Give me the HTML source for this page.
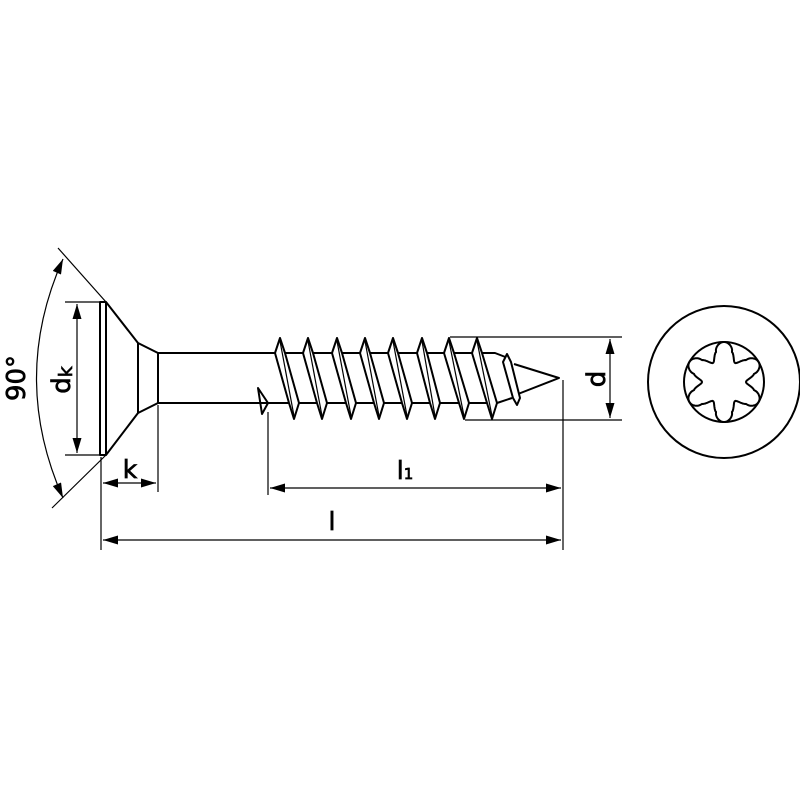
<!DOCTYPE html>
<html><head><meta charset="utf-8"><style>body{margin:0;background:#fff}svg{display:block}text{font-family:"DejaVu Sans","Liberation Sans",sans-serif;fill:#000;stroke:#000;stroke-width:0.7}</style></head>
<body>
<svg width="800" height="800" viewBox="0 0 800 800" xmlns="http://www.w3.org/2000/svg">
<defs>
<marker id="a" viewBox="0 0 10 6" refX="10" refY="3" markerWidth="17" markerHeight="9" markerUnits="userSpaceOnUse" orient="auto-start-reverse"><path d="M0,0 L10,3 L0,6 z" fill="#000"/></marker>
</defs>
<g stroke="#000" fill="none" stroke-width="2" stroke-linejoin="round">
<rect x="100" y="302" width="6" height="153"/>
<path d="M106,302 L138,343 L158,353 L158,403 L138,413 L106,455"/>
<line x1="138" y1="343" x2="138" y2="413"/>
<line x1="158" y1="353" x2="276" y2="353"/>
<line x1="158" y1="403" x2="262" y2="403"/>
<path d="M258,388 L268,403 L262,414 L258,388 Z"/>
<path d="M276,353 L495,353 L508,358"/>
<path d="M262,403 L497,403"/>
<path d="M514,364 L559,378 L518,394"/>
<path d="M497,403 L512,398"/>
</g>
<g stroke="#000" fill="#fff" stroke-width="2" stroke-linejoin="round">
<path d="M275,353 L280,338 L285,353 L299,403 L294,419 L289,403 Z"/>
<path d="M303,353 L308,338 L313,353 L327,403 L322,419 L317,403 Z"/>
<path d="M332,353 L337,338 L342,353 L356,403 L351,419 L346,403 Z"/>
<path d="M360,353 L365,338 L370,353 L384,403 L379,419 L374,403 Z"/>
<path d="M388,353 L393,338 L398,353 L412,403 L407,419 L402,403 Z"/>
<path d="M417,353 L422,338 L427,353 L440,403 L435,419 L430,403 Z"/>
<path d="M444,353 L449,338 L454,353 L469,403 L464,419 L459,403 Z"/>
<path d="M472,353 L477,338 L482,353 L497,403 L492,419 L487,403 Z"/>
<path d="M503,362 L507,354 L511,362 L520,398 L517,405 L513,398 Z"/>
</g>
<g stroke="#000" stroke-width="1.2" fill="none">
<line x1="280" y1="341" x2="294" y2="416"/><line x1="308" y1="341" x2="322" y2="416"/><line x1="337" y1="341" x2="351" y2="416"/><line x1="365" y1="341" x2="379" y2="416"/><line x1="393" y1="341" x2="407" y2="416"/><line x1="422" y1="341" x2="435" y2="416"/><line x1="449" y1="341" x2="464" y2="416"/><line x1="477" y1="341" x2="492" y2="416"/>
<line x1="65" y1="302" x2="104" y2="302"/>
<line x1="65" y1="455" x2="104" y2="455"/>
<line x1="101" y1="457" x2="101" y2="550"/>
<line x1="158" y1="405" x2="158" y2="492"/>
<line x1="268" y1="412" x2="268" y2="495"/>
<line x1="563" y1="380" x2="563" y2="550"/>
<line x1="450" y1="337" x2="622" y2="337"/>
<line x1="465" y1="420" x2="622" y2="420"/>
<line x1="58" y1="248" x2="106" y2="302"/>
<line x1="106" y1="455" x2="52" y2="508"/>
<line x1="77" y1="304" x2="77" y2="453" marker-start="url(#a)" marker-end="url(#a)"/>
<line x1="103" y1="483" x2="156" y2="483" marker-start="url(#a)" marker-end="url(#a)"/>
<line x1="270" y1="488" x2="561" y2="488" marker-start="url(#a)" marker-end="url(#a)"/>
<line x1="103" y1="540" x2="561" y2="540" marker-start="url(#a)" marker-end="url(#a)"/>
<line x1="610" y1="339" x2="610" y2="418" marker-start="url(#a)" marker-end="url(#a)"/>
<path d="M63,259 Q10,378 63,498" marker-start="url(#a)" marker-end="url(#a)"/>
</g>
<g stroke="#000" stroke-width="2" fill="none">
<circle cx="724" cy="382" r="76"/>
<circle cx="724" cy="382" r="40"/>
<path id="torx" d=""/>
</g>
<script>
(function(){var p=[],cx=724,cy=382;for(var i=0;i<=360;i++){var t=i*Math.PI/180;var c=Math.cos(6*(t+Math.PI/2));var r=31+9*(c>0?Math.pow(c,0.6):-Math.pow(-c,1.4));p.push((cx+r*Math.cos(t)).toFixed(1)+','+(cy+r*Math.sin(t)).toFixed(1));}document.getElementById('torx').setAttribute('d','M'+p.join(' L')+'Z');})();
</script>
<text x="130" y="478" font-size="25" text-anchor="middle">k</text>
<text x="405" y="479" font-size="25" text-anchor="middle">l<tspan font-size="15">1</tspan></text>
<text x="332" y="530" font-size="25" text-anchor="middle">l</text>
<text transform="translate(70,380) rotate(-90)" font-size="26" text-anchor="middle">d<tspan font-size="19" dy="2">k</tspan></text>
<text transform="translate(25,378) rotate(-90)" font-size="26" text-anchor="middle">90°</text>
<text transform="translate(605,379) rotate(-90)" font-size="26" text-anchor="middle">d</text>
</svg>
</body></html>
